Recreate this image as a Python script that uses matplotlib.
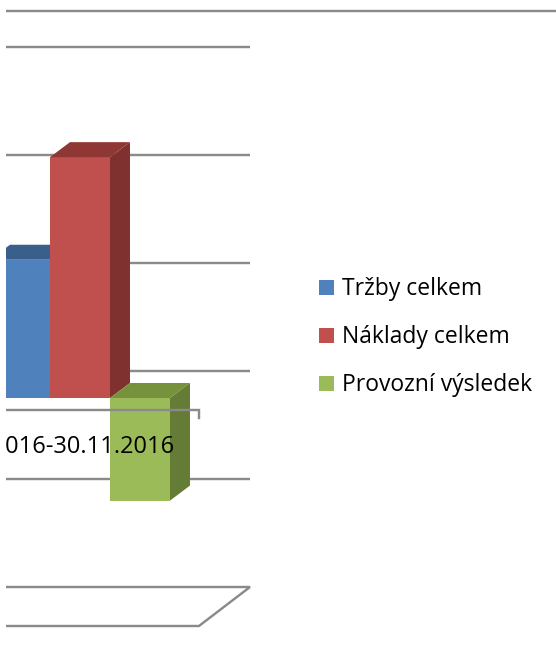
import numpy as np
import matplotlib
matplotlib.use('Agg')
import matplotlib.pyplot as plt
from matplotlib.patches import Polygon, Rectangle

#%% Data
category = '1.1.2016-30.11.2016'
series = ['Tržby celkem', 'Náklady celkem', 'Provozní výsledek']
values = [1.28, 2.23, -0.95]
grid_values = [-2, -1, 0, 1, 2, 3]

front_cols = ['#4F81BD', '#C0504D', '#9BBB59']
top_cols = ['#3A5F8B', '#8F3735', '#77923C']
side_cols = ['#34557C', '#7F312F', '#657C37']
grid_col = '#8A8A8A'

plt.rcParams['font.family'] = ['Open Sans', 'DejaVu Sans']

#%% Geometry of the fake 3D view (data units)
bar_w = 1.0
bar_dx, bar_dy = 0.333, 0.139      # depth of one bar
back_dx, back_dy = 0.583, 0.25     # bar front -> back wall
front_dx, front_dy = -0.267, -0.111  # bar front -> front edge of floor
cat_half = 2.25
left = -6.0

f = plt.figure(figsize=(5.56, 6.52), dpi=100)
ax = f.add_axes([6/556, 0, 550/556, 1])
ax.set_xlim((6-80)/60, (556-80)/60)
ax.set_ylim(-254/108, 398/108)
ax.axis('off')

lw = 2.4*72/100

# back wall gridlines
for g in grid_values[1:]:
    ax.plot([left+back_dx, cat_half+back_dx], [g+back_dy, g+back_dy],
            color=grid_col, lw=lw, solid_capstyle='butt', zorder=1)

# floor
fl = grid_values[0]
floor = [(left+front_dx, fl+front_dy), (cat_half+front_dx, fl+front_dy),
         (cat_half+back_dx, fl+back_dy), (left+back_dx, fl+back_dy)]
ax.add_patch(Polygon(floor, closed=True, facecolor='white', edgecolor=grid_col,
                     lw=lw, zorder=1))

# bars
n = len(values)
for i, v in enumerate(values):
    x0 = -n*bar_w/2 + i*bar_w
    x1 = x0 + bar_w
    lo, hi = min(0, v), max(0, v)
    z = 2 + i
    ax.add_patch(Polygon([(x0, lo), (x1, lo), (x1, hi), (x0, hi)],
                         facecolor=front_cols[i], edgecolor='none', zorder=z))
    ax.add_patch(Polygon([(x0, hi), (x1, hi), (x1+bar_dx, hi+bar_dy),
                          (x0+bar_dx, hi+bar_dy)],
                         facecolor=top_cols[i], edgecolor='none', zorder=z))
    ax.add_patch(Polygon([(x1, lo), (x1+bar_dx, lo+bar_dy),
                          (x1+bar_dx, hi+bar_dy), (x1, hi)],
                         facecolor=side_cols[i], edgecolor='none', zorder=z))

# category axis on the front edge
ax.plot([left+front_dx, cat_half+front_dx, cat_half+front_dx],
        [front_dy, front_dy, front_dy-0.074],
        color=grid_col, lw=lw, solid_joinstyle='miter', zorder=10)
ax.text((175-80)/60, (398-453)/108, category, ha='right', va='baseline',
        fontsize=17, color='black', zorder=11, clip_on=True)

# top border line
f.add_artist(plt.Line2D([6/556, 1], [1-11/652, 1-11/652], color=grid_col, lw=lw,
                        solid_capstyle='butt'))

# legend
for i, s in enumerate(series):
    yc = 1 - (287 + 48*i)/652
    f.add_artist(Rectangle((319/556, yc - 7.5/652), 15/556, 15/652,
                           facecolor=front_cols[i], edgecolor='none'))
    f.text(342/556, 1 - (295 + 48*i)/652, s, ha='left', va='baseline',
           fontsize=16.5, color='black')

f.savefig('out.png', dpi=100)
